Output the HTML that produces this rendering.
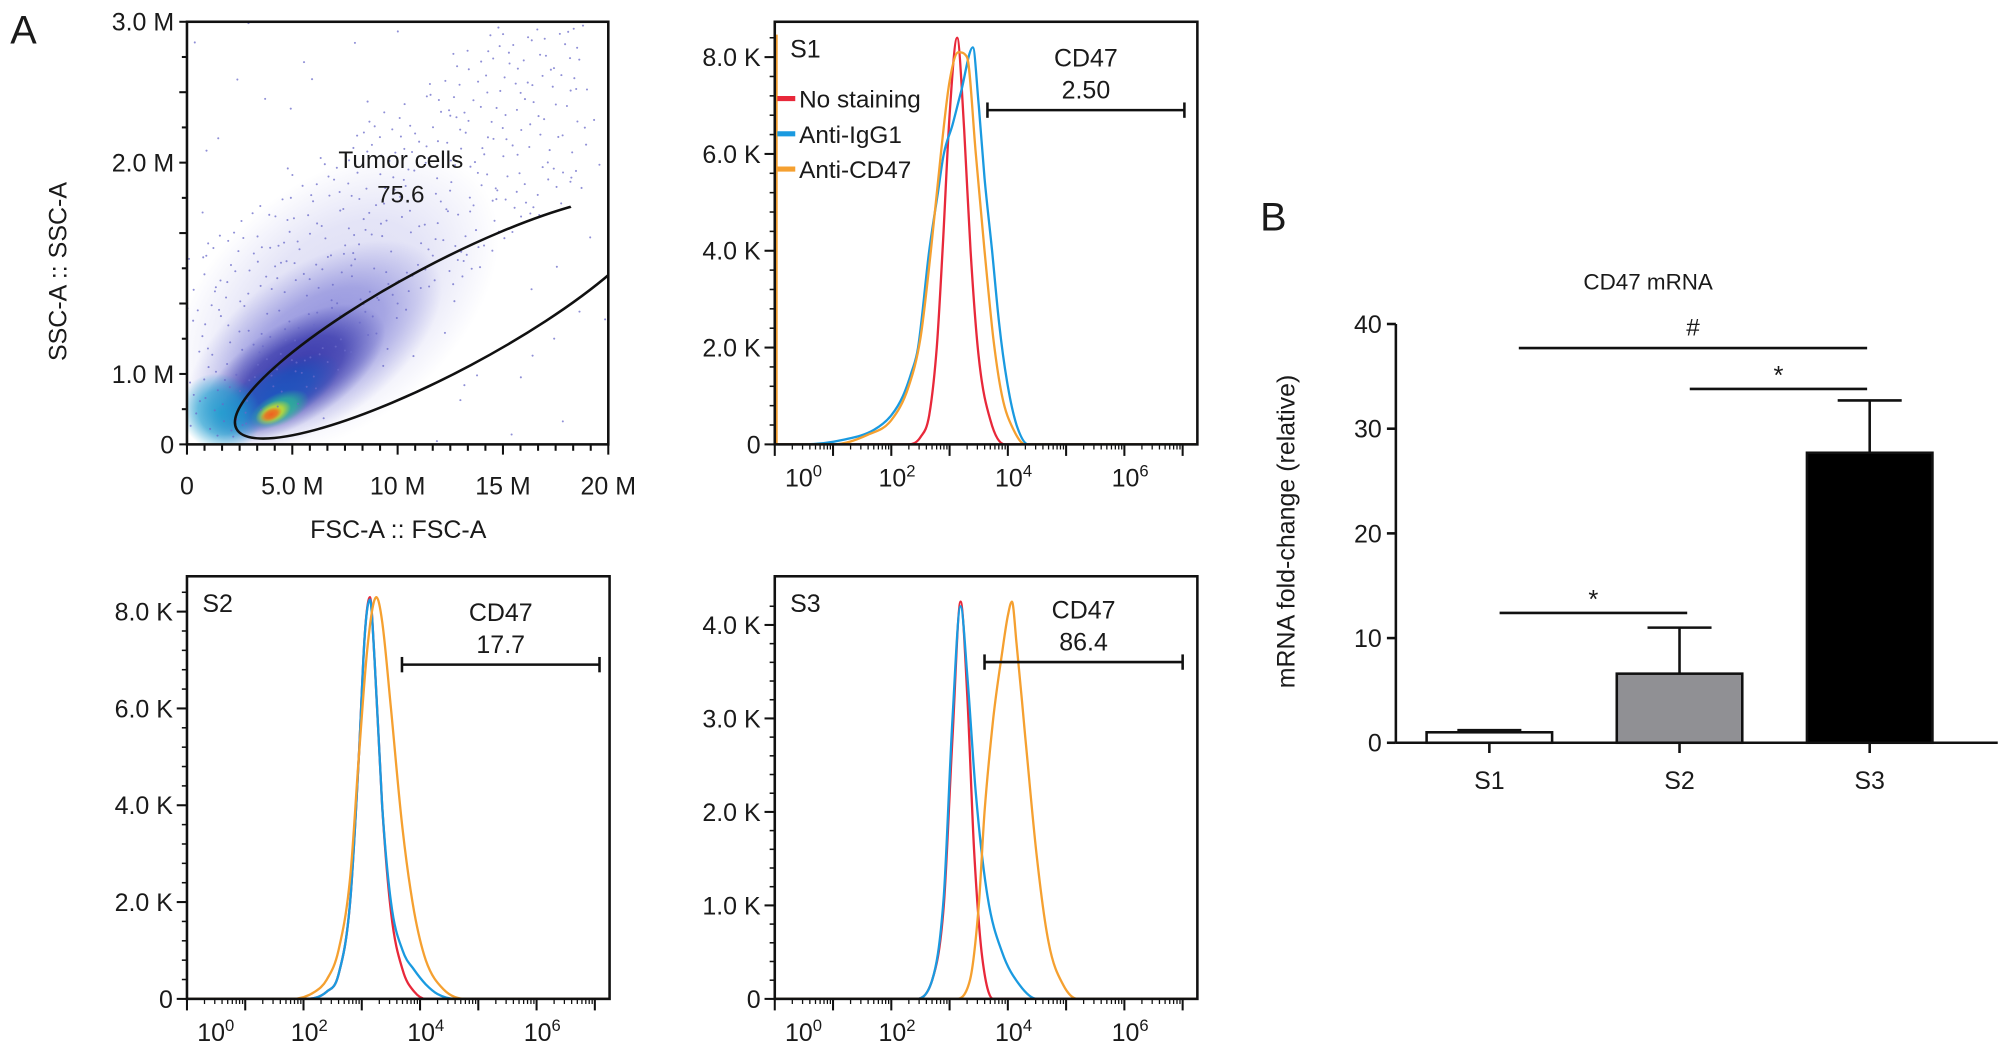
<!DOCTYPE html>
<html><head><meta charset="utf-8"><style>
html,body{margin:0;padding:0;background:#fff}
svg{display:block}
text{font-family:"Liberation Sans",Arial,sans-serif;fill:#1a1a1a}
</style></head><body>
<svg id="fig" xmlns="http://www.w3.org/2000/svg" width="2008" height="1061" viewBox="0 0 1568 828.5">
<defs>
<clipPath id="scClip"><rect x="146" y="17" width="329" height="330"/></clipPath>
</defs>
<text x="8" y="34" font-size="31">A</text>
<text x="984" y="180" font-size="31">B</text>
<g id="scatter"></g>
<g id="h1"></g>
<g id="h2"></g>
<g id="h3"></g>
<g id="bars"></g>
</svg>
<script>
// ---------- data ----------
const scXTicks = [0,5,10,15,20];
const scXTickLabels = ["0","5.0 M","10 M","15 M","20 M"];
const scYTickLabels = ["0","1.0 M","2.0 M","3.0 M"];
const scYTickUnits = [0,2,8,12];
const blobFsc = [7.0,6.0,5.0,4.2,1.6,4.4,4.1,4.0];
const blobSsc = [4.0,2.8,2.0,1.4,0.9,1.0,0.9,0.85];
const blobRx  = [9.0,7.0,5.0,3.4,1.8,1.5,0.9,0.55];
const blobRy  = [3.4,2.2,1.4,0.8,1.2,0.45,0.3,0.18];
const blobAng = [-40,-35,-32,-28,-55,-25,-25,-25];
const blobCol = ["#9a9ae0","#5050c8","#2424a0","#1a58c0","#18a0d0","#2ec890","#e0e020","#f05a20"];
const blobOp  = [0.35,0.55,0.85,0.85,0.85,0.85,0.95,0.95];
const gateTitle = "Tumor cells", gateValue = "75.6";

const histLabels = ["S1","S2","S3"];
const histGateVals = ["2.50","17.7","86.4"];
const histYMax = [8.8,8.8,4.5];
const histYTicks = [[0,2,4,6,8],[0,2,4,6,8],[0,1,2,3,4]];
const histXTicks = [0,2,4,6];
const gateStart = [3.65,3.69,3.6];
const gateEnd = [7.03,7.08,7.0];
const s1Red = [[2.3,0],[2.5,0.15],[2.65,0.6],[2.78,2],[2.88,4],[3.0,6.8],[3.13,8.4],[3.25,6.5],[3.36,4],[3.5,1.8],[3.7,0.5],[3.95,0]];
const s1Blue = [[0.5,0],[1.2,0.1],[1.7,0.3],[2.0,0.6],[2.2,1.0],[2.35,1.5],[2.46,2],[2.65,4],[2.8,5.2],[2.9,6],[3.05,6.6],[3.2,7.3],[3.4,8.2],[3.5,7],[3.6,5.5],[3.73,4],[3.85,2.5],[4.0,1.2],[4.15,0.4],[4.35,0]];
const s1Orange = [[1.0,0],[1.6,0.2],[2.0,0.5],[2.3,1.2],[2.5,2.2],[2.68,4],[2.85,6],[3.0,7.5],[3.15,8.1],[3.3,8.0],[3.45,6],[3.6,4],[3.75,2.2],[3.9,1.0],[4.1,0.3],[4.3,0]];
const s2Red = [[2.0,0],[2.4,0.15],[2.6,0.5],[2.8,2],[2.95,5],[3.05,7.5],[3.14,8.3],[3.22,7],[3.35,4],[3.5,1.8],[3.7,0.6],[3.9,0.15],[4.1,0]];
const s2Blue = [[2.0,0],[2.4,0.15],[2.6,0.5],[2.8,2],[2.95,5],[3.05,7.5],[3.14,8.25],[3.22,7],[3.35,4],[3.5,2],[3.7,1.0],[3.9,0.6],[4.1,0.3],[4.3,0.1],[4.6,0]];
const s2Orange = [[1.8,0],[2.2,0.15],[2.4,0.4],[2.6,1],[2.8,2.5],[2.95,5],[3.1,7.3],[3.25,8.3],[3.35,7.8],[3.5,6],[3.7,3.5],[3.9,1.8],[4.1,0.8],[4.4,0.2],[4.8,0]];
const s3Red = [[2.4,0],[2.7,0.2],[2.9,1.0],[3.05,2.8],[3.19,4.25],[3.3,3.3],[3.42,1.6],[3.55,0.5],[3.75,0]];
const s3Blue = [[2.4,0],[2.7,0.2],[2.9,1.1],[3.05,3],[3.19,4.2],[3.3,3.5],[3.45,2.2],[3.65,1.1],[3.9,0.5],[4.2,0.15],[4.5,0]];
const s3Orange = [[3.1,0],[3.35,0.2],[3.5,1.0],[3.6,2],[3.75,3],[3.9,3.7],[4.0,4.1],[4.07,4.25],[4.15,3.8],[4.3,2.8],[4.5,1.5],[4.7,0.6],[4.95,0.15],[5.2,0]];
const legendLabels = ["No staining","Anti-IgG1","Anti-CD47"];

const barCats = ["S1","S2","S3"];
const barVals = [1.0,6.6,27.7];
const barErr = [0.2,4.4,5.0];
const barYTicks = [0,10,20,30,40];
const sigPairs = [[0,1],[1,2],[0,2]];
const sigLevels = [12.4,33.8,37.7];
const sigMarks = ["*","*","#"];

// ---------- helpers ----------
const NS="http://www.w3.org/2000/svg";
function mk(tag,attrs,parent,txt){const e=document.createElementNS(NS,tag);for(const k in attrs)e.setAttribute(k,attrs[k]);if(txt!==undefined)e.textContent=txt;parent.appendChild(e);return e;}
// monotone cubic (Fritsch-Carlson) path in pixel space
function monotone(p){const n=p.length;const dx=[],m=[],t=new Array(n);
 for(let i=0;i<n-1;i++){dx.push(p[i+1][0]-p[i][0]);m.push((p[i+1][1]-p[i][1])/dx[i]);}
 t[0]=m[0];t[n-1]=m[n-2];
 for(let i=1;i<n-1;i++){t[i]=(m[i-1]*m[i]<=0)?0:(m[i-1]+m[i])/2;}
 for(let i=0;i<n-1;i++){if(m[i]===0){t[i]=0;t[i+1]=0;continue;}
  const a=t[i]/m[i],b=t[i+1]/m[i],s=a*a+b*b;if(s>9){const k=3/Math.sqrt(s);t[i]=k*a*m[i];t[i+1]=k*b*m[i];}}
 let d="M"+p[0][0].toFixed(1)+","+p[0][1].toFixed(1);
 for(let i=0;i<n-1;i++){const h=dx[i]/3;
  d+=" C"+(p[i][0]+h).toFixed(1)+","+(p[i][1]+t[i]*h).toFixed(1)+" "+(p[i+1][0]-h).toFixed(1)+","+(p[i+1][1]-t[i+1]*h).toFixed(1)+" "+p[i+1][0].toFixed(1)+","+p[i+1][1].toFixed(1);}
 return d;}

// ---------- scatter ----------
(function(){
 const g=document.getElementById('scatter');
 const L=146,R=475,T=17,B=347;
 const sx=v=>L+v*(R-L)/20, sy=u=>B-u*(B-T)/12;
 const defs=document.querySelector('defs');
 const cloud=mk('g',{'clip-path':'url(#scClip)'},g);
 
 
 blobFsc.forEach((f,i)=>{
  const gr=mk('radialGradient',{id:'bg'+i},defs);
  mk('stop',{offset:'0%','stop-color':blobCol[i],'stop-opacity':blobOp[i]},gr);
  mk('stop',{offset:'55%','stop-color':blobCol[i],'stop-opacity':blobOp[i]*0.75},gr);
  mk('stop',{offset:'100%','stop-color':blobCol[i],'stop-opacity':0},gr);
  const cx=sx(f),cy=sy(blobSsc[i]);
  const e=mk('ellipse',{cx:cx,cy:cy,rx:blobRx[i]*(R-L)/20,ry:blobRy[i]*(B-T)/12,fill:'url(#bg'+i+')',transform:'rotate('+blobAng[i]+' '+cx+' '+cy+')'},cloud);
  
  
 });
 function halton(i,b){let f=1,r=0;while(i>0){f/=b;r+=f*(i%b);i=Math.floor(i/b);}return r;}
 for(let i=1;i<2500;i++){const x=halton(i,2)*20,u=halton(i,3)*12;
  const ex=u-(x*0.45+0.3);const keep=(ex>-1.5&&ex<5&&x<19)?(halton(i,5)<0.35):(halton(i,5)<0.03);
  if(keep) mk('circle',{cx:sx(x),cy:sy(u),r:0.8,fill:'#6a6ac8','fill-opacity':0.75},cloud);}
 mk('rect',{x:L,y:T,width:R-L,height:B-T,fill:'none',stroke:'#111','stroke-width':2},g);
 const ge=mk('ellipse',{cx:348,cy:248,rx:185,ry:42,fill:'none',stroke:'#111','stroke-width':2,transform:'rotate(-28 348 248)','clip-path':'url(#scClip)'},g);
 
 
 mk('text',{x:313,y:131,'font-size':19,'text-anchor':'middle'},g,gateTitle);
 mk('text',{x:313,y:158,'font-size':19,'text-anchor':'middle'},g,gateValue);
 for(let i=0;i<=12;i++){const y=sy(i);mk('line',{x1:L-(i%2==0?6:4),x2:L,y1:y,y2:y,stroke:'#111','stroke-width':1.6},g);}
 for(let i=0;i<=24;i++){const x=sx(i*20/24);mk('line',{x1:x,x2:x,y1:B,y2:B+(i%6==0?8:5),stroke:'#111','stroke-width':1.6},g);}
 scYTickLabels.forEach((t,i)=>{const e=mk('text',{x:L-10,y:sy(scYTickUnits[i])+7,'font-size':19.5,'text-anchor':'end'},g,t);});
 scXTicks.forEach((v,i)=>{const e=mk('text',{x:sx(v),y:386,'font-size':19.5,'text-anchor':'middle'},g,scXTickLabels[i]);});
 mk('text',{x:311,y:420,'font-size':19.5,'text-anchor':'middle'},g,'FSC-A :: FSC-A');
 mk('text',{x:0,y:0,'font-size':19.5,'text-anchor':'middle',transform:'translate(52,212) rotate(-90)'},g,'SSC-A :: SSC-A');
})();

// ---------- histograms ----------
const histSeries=[[s1Red,s1Blue,s1Orange],[s2Red,s2Blue,s2Orange],[s3Red,s3Blue,s3Orange]];
const histBox=[[605,17],[146,450],[605,450]];
const colors=["#e8283a","#1a9ae0","#f5a030"];
histSeries.forEach((series,h)=>{
 const g=document.getElementById('h'+(h+1));
 const L=histBox[h][0],T=histBox[h][1],W=330,H=330,B=T+H;
 const sx=l=>L+l*45.5;
 const ky = (h==2)?73:37.8;
 const syy=v=>B-v*ky;
 series.forEach((pts,si)=>{
  const full=[[0,0]].concat(pts).concat([[7.25,0]]);
  const p=full.map(q=>[sx(q[0]),syy(q[1])]);
  const e=mk('path',{d:monotone(p),fill:'none',stroke:colors[si],'stroke-width':1.8,'stroke-linejoin':'round'},g);
  
  
 });
 if(h==0){mk('line',{x1:L+1.5,x2:L+1.5,y1:T+10,y2:B,stroke:'#f5a030','stroke-width':1.6},g);}
 mk('rect',{x:L,y:T,width:W,height:H,fill:'none',stroke:'#111','stroke-width':2},g);
 histYTicks[h].forEach(v=>{const y=syy(v);mk('line',{x1:L-8,x2:L,y1:y,y2:y,stroke:'#111','stroke-width':1.6},g);
  const e=mk('text',{x:L-11,y:y+7,'font-size':19.5,'text-anchor':'end'},g,v==0?'0':v.toFixed(1)+' K');});
 const minorStep = h==2?0.2:0.4;
 for(let v=0;v<histYMax[h]-0.1;v+=minorStep){const y=syy(v);mk('line',{x1:L-4,x2:L,y1:y,y2:y,stroke:'#111','stroke-width':1.2},g);}
 for(let d=0;d<=7;d++){const x=sx(d);mk('line',{x1:x,x2:x,y1:B,y2:B+9,stroke:'#111','stroke-width':1.6},g);
  if(d<7)for(let m=2;m<10;m++){const xm=sx(d+Math.log10(m));mk('line',{x1:xm,x2:xm,y1:B,y2:B+4,stroke:'#111','stroke-width':1},g);}}
 histXTicks.forEach(d=>{const x=sx(d)+(d==0?8:-10);
  const t=mk('text',{x:x,y:B+33,'font-size':19.5},g);
  mk('tspan',{},t,'10');mk('tspan',{dy:-8,'font-size':13},t,String(d));});
 mk('text',{x:L+12,y:T+28,'font-size':19.5},g,histLabels[h]);
 const gx1=sx(gateStart[h]),gx2=sx(gateEnd[h]),gy=(h==0)?86:(h==1?519:517);
 const gg=mk('g',{},g);
 mk('line',{x1:gx1,x2:gx2,y1:gy,y2:gy,stroke:'#111','stroke-width':2},gg);
 mk('line',{x1:gx1,x2:gx1,y1:gy-6,y2:gy+6,stroke:'#111','stroke-width':2},gg);
 mk('line',{x1:gx2,x2:gx2,y1:gy-6,y2:gy+6,stroke:'#111','stroke-width':2},gg);
 const cx=(gx1+gx2)/2;
 mk('text',{x:cx,y:gy-34,'font-size':19.5,'text-anchor':'middle'},g,'CD47');
 mk('text',{x:cx,y:gy-9,'font-size':19.5,'text-anchor':'middle'},g,histGateVals[h]);
 if(h==0){legendLabels.forEach((lab,i)=>{const y=78+i*27.5;
  const lg=mk('g',{},g);
  mk('line',{x1:607,x2:621,y1:y-1,y2:y-1,stroke:colors[i],'stroke-width':4},lg);
  mk('text',{x:624,y:y+6,'font-size':19},lg,lab);});}
});

// ---------- bar chart ----------
(function(){
 const g=document.getElementById('bars');
 const L=1090,R=1560,B=580;
 const sy=v=>B-v*8.175, cx=i=>1163+i*148.5, bw=98;
 const fills=["#ffffff","#909094","#000000"];
 barVals.forEach((v,i)=>{
  const x=cx(i),top=sy(v+barErr[i]);
  mk('line',{x1:x,x2:x,y1:sy(v),y2:top,stroke:'#111','stroke-width':2},g);
  mk('line',{x1:x-25,x2:x+25,y1:top,y2:top,stroke:'#111','stroke-width':2},g);
  const r=mk('rect',{x:x-bw/2,y:sy(v),width:bw,height:B-sy(v),fill:fills[i],stroke:'#111','stroke-width':2},g);
  
  
 });
 mk('line',{x1:L,x2:L,y1:sy(40),y2:B,stroke:'#111','stroke-width':2},g);
 mk('line',{x1:L,x2:R,y1:B,y2:B,stroke:'#111','stroke-width':2},g);
 barYTicks.forEach(v=>{const y=sy(v);mk('line',{x1:L-7,x2:L,y1:y,y2:y,stroke:'#111','stroke-width':2},g);
  const e=mk('text',{x:L-11,y:y+7,'font-size':19.5,'text-anchor':'end'},g,String(v));});
 barCats.forEach((c,i)=>{mk('line',{x1:cx(i),x2:cx(i),y1:B,y2:B+8,stroke:'#111','stroke-width':2},g);
  const e=mk('text',{x:cx(i),y:616,'font-size':19.5,'text-anchor':'middle'},g,c);});
 sigPairs.forEach((p,k)=>{const y=sy(sigLevels[k]);const x1=cx(p[0])+(k==2?23:8),x2=cx(p[1])+(k==0?6:-2);
  const sg=mk('g',{},g);
  mk('line',{x1:x1,x2:x2,y1:y,y2:y,stroke:'#111','stroke-width':2},sg);
  mk('text',{x:(x1+x2)/2,y:y-(sigMarks[k]=='#'?6:0)-4,'font-size':sigMarks[k]=='#'?19:20,'text-anchor':'middle'},sg,sigMarks[k]);});
 mk('text',{x:1287,y:226,'font-size':17.5,'text-anchor':'middle'},g,'CD47 mRNA');
 mk('text',{x:0,y:0,'font-size':19.5,'text-anchor':'middle',transform:'translate(1011,415) rotate(-90)'},g,'mRNA fold-change (relative)');
})();
</script>
</body></html>
